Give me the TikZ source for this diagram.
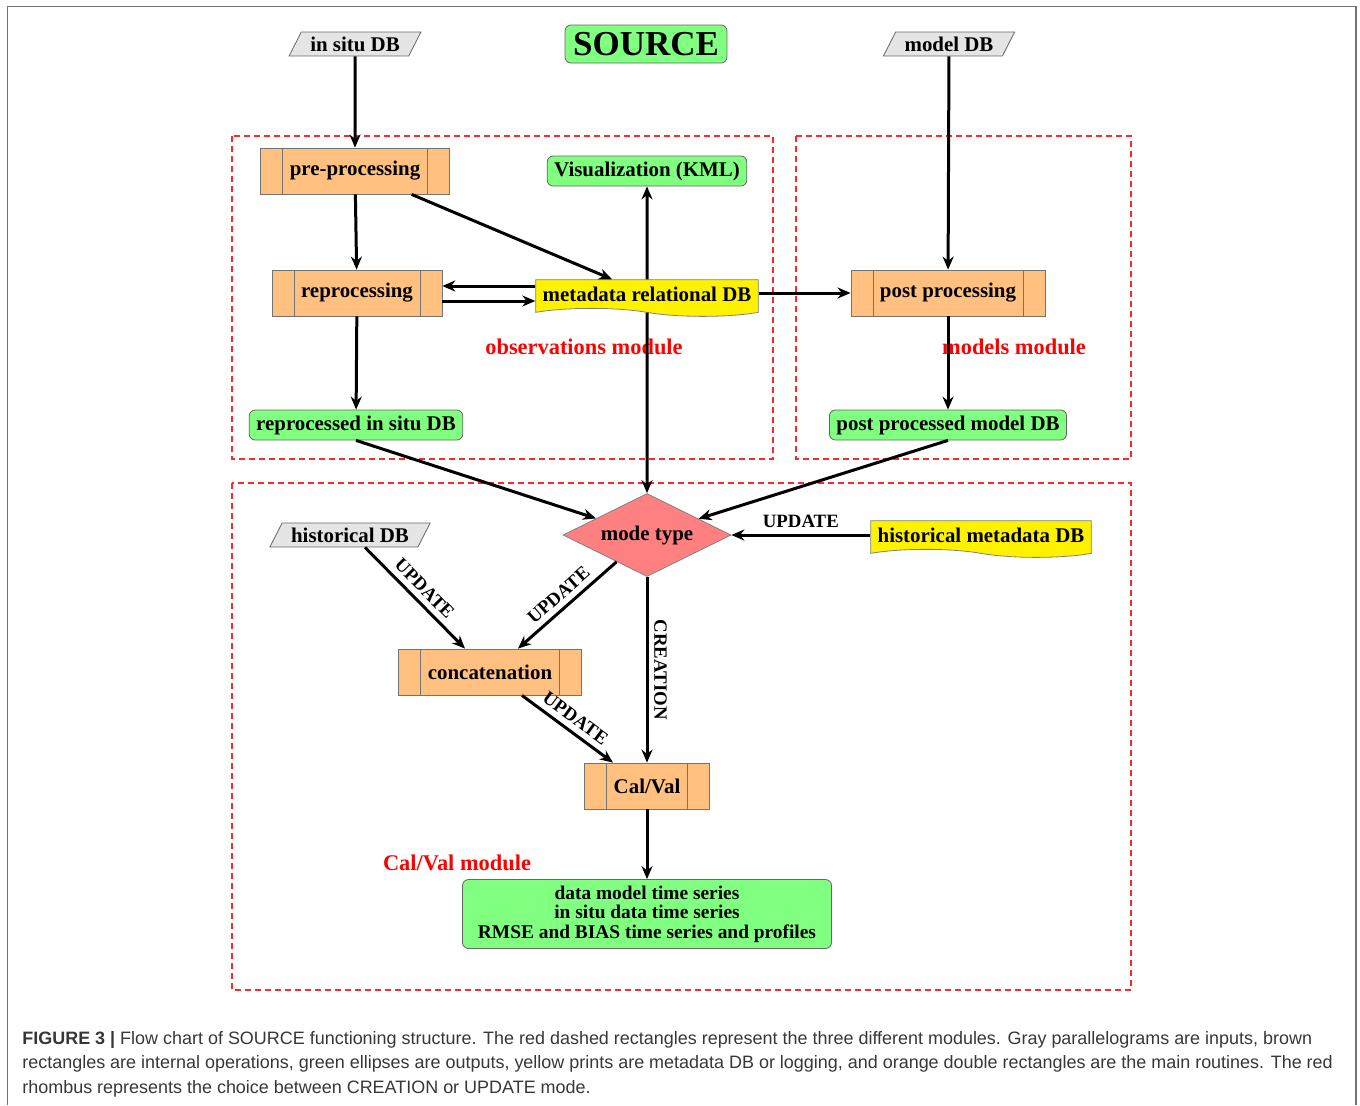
\documentclass[tikz,border=0pt]{standalone}
\usepackage{fontspec}
\setmainfont{Liberation Serif}
\newfontfamily\capfont{Liberation Sans}
\usepackage{tikz}
\usetikzlibrary{positioning,arrows.meta,shapes.geometric,shapes.symbols,calc}
\definecolor{ingray}{RGB}{229,229,229}
\definecolor{outgreen}{RGB}{128,255,128}
\definecolor{routorange}{RGB}{255,192,128}
\definecolor{metayellow}{RGB}{255,242,0}
\definecolor{modered}{RGB}{255,128,128}
\definecolor{modline}{RGB}{255,40,40}
\definecolor{capgray}{RGB}{55,55,55}
\tikzset{
  nodefont/.style = {font=\fontsize{10.45}{12}\selectfont\bfseries},
  inbox/.style    = {trapezium, trapezium left angle=63, trapezium right angle=117, draw=black!60, fill=ingray, nodefont, inner xsep=4.5pt, inner ysep=2.3pt},
  outbox/.style   = {draw=black!60, fill=outgreen, rounded corners=3pt, nodefont, inner xsep=3.5pt, inner ysep=0pt, minimum height=15pt},
  routine/.style  = {draw=black!55, fill=routorange, nodefont, inner xsep=14.5pt, minimum height=23pt,
    path picture={\draw[black!55] ([xshift=11pt]path picture bounding box.north west) -- ([xshift=11pt]path picture bounding box.south west)
      ([xshift=-11pt]path picture bounding box.north east) -- ([xshift=-11pt]path picture bounding box.south east);}},
  metadb/.style   = {tape, tape bend top=none, tape bend bottom=out and in, tape bend height=4pt, draw=black!50, fill=metayellow, nodefont, inner xsep=3.5pt, inner ysep=3.5pt},
  choice/.style   = {diamond, aspect=2, draw=black!50, fill=modered, nodefont, inner sep=0pt, minimum width=84pt, minimum height=41.5pt},
  module/.style   = {draw=modline, line width=0.7pt, dash pattern=on 3pt off 2pt},
  modtext/.style  = {text=red, font=\fontsize{11.2}{13}\selectfont\bfseries},
  flow/.style     = {-{Stealth[length=6.5pt,width=5.5pt]}, line width=1.5pt},
  lbl/.style      = {font=\fontsize{9.4}{11}\selectfont\bfseries, inner sep=2.8pt},
}

\begin{document}
\begin{tikzpicture}[x=0.5pt, y=-0.5pt]
  \useasboundingbox (0,0) rectangle (1360,1105);
  \draw[black!55, line width=0.9pt] (7.5,1105) -- (7.5,6.5) -- (1356,6.5) -- (1356,1105);

  % modules
  \draw[module] (232,136) rectangle (773,459);
  \draw[module] (796,136) rectangle (1131,459);
  \draw[module] (232,483) rectangle (1131,990);
  \node[modtext] (obsmod) at (584,347) {observations module};
  \node[modtext] (modmod) at (1014,347) {models module};
  \node[modtext] (cvmod) at (457,863) {Cal/Val module};

  \node[inbox] (insitu) at (355,44) {in situ DB};
  \node[outbox, font=\fontsize{17.5}{20}\selectfont\bfseries, inner xsep=4pt, minimum height=19pt] (source) at (646,44) {SOURCE};
  \node[inbox] (modeldb) at (949,44) {model DB};
  \node[routine] (pre) at (355,171) {pre-processing};
  \node[outbox] (vis) at (647,171) {Visualization (KML)};
  \node[routine] (repro) at (357,293) {reprocessing};
  \node[metadb] (meta) at (647,294) {metadata relational DB};
  \node[routine] (post) at (948,293) {post processing};
  \node[outbox] (rsitu) at (356,425) {reprocessed in situ DB};
  \node[outbox] (pmodel) at (948,425) {post processed model DB};
  \node[choice] (mode) at (647,535) {mode type};
  \node[inbox] (hist) at (350,535) {historical DB};
  \node[metadb] (histmeta) at (981,535) {historical metadata DB};
  \node[routine] (concat) at (490,672) {concatenation};
  \node[routine] (calval) at (647,786) {Cal/Val};
  \node[outbox, align=center, font=\fontsize{9.7}{9.8}\selectfont\bfseries, minimum width=184.5pt, minimum height=34.5pt] (series) at (647,914)
    {data model time series\\in situ data time series\\RMSE and BIAS time series and profiles};

  % connectors
  \coordinate (rup) at ($(repro.east)+(0,-7)$);
  \coordinate (rdn) at ($(repro.east)+(0,8)$);
  \draw[flow] (insitu) -- (pre);
  \draw[flow] (modeldb) -- (post);
  \draw[flow] (pre) -- (repro);
  \draw[flow] ($(pre.south east)+(-38,0)$) -- ($(meta.north)+(-35,0)$);
  \draw[flow] (meta.west |- rup) -- (rup);
  \draw[flow] (rdn) -- (meta.west |- rdn);
  \draw[flow] (meta.east |- post.west) -- (post.west);
  \draw[flow] (meta) -- (vis);
  \draw[flow] (meta) -- (mode);
  \draw[flow] (repro) -- (rsitu);
  \draw[flow] (post) -- (pmodel);
  \draw[flow] (rsitu.south) -- (mode);
  \draw[flow] (pmodel.south) -- (mode);
  \draw[flow] (histmeta.west |- mode.east) -- node[lbl, above] {UPDATE} (mode.east);
  \draw[flow] ($(hist.south)+(15,0)$) -- node[lbl, sloped, above] {UPDATE} ($(concat.north)+(-25,0)$);
  \draw[flow] (mode) -- node[lbl, sloped, above] {UPDATE} ($(concat.north)+(28,0)$);
  \draw[flow] (mode) -- node[lbl, sloped, above] {CREATION} (calval);
  \draw[flow] ($(concat.south)+(32,0)$) -- node[lbl, sloped, above] {UPDATE} ($(calval.north)+(-34,0)$);
  \draw[flow] (calval) -- (series);

  \node[anchor=north west, align=left, text=capgray, inner sep=0pt, font=\capfont\fontsize{8.98}{12.25}\selectfont] (caption) at (22,1031)
    {{\bfseries FIGURE 3 |} Flow chart of SOURCE functioning structure. The red dashed rectangles represent the three different modules. Gray parallelograms are inputs, brown\\
     rectangles are internal operations, green ellipses are outputs, yellow prints are metadata DB or logging, and orange double rectangles are the main routines. The red\\
     rhombus represents the choice between CREATION or UPDATE mode.};
\end{tikzpicture}
\end{document}
